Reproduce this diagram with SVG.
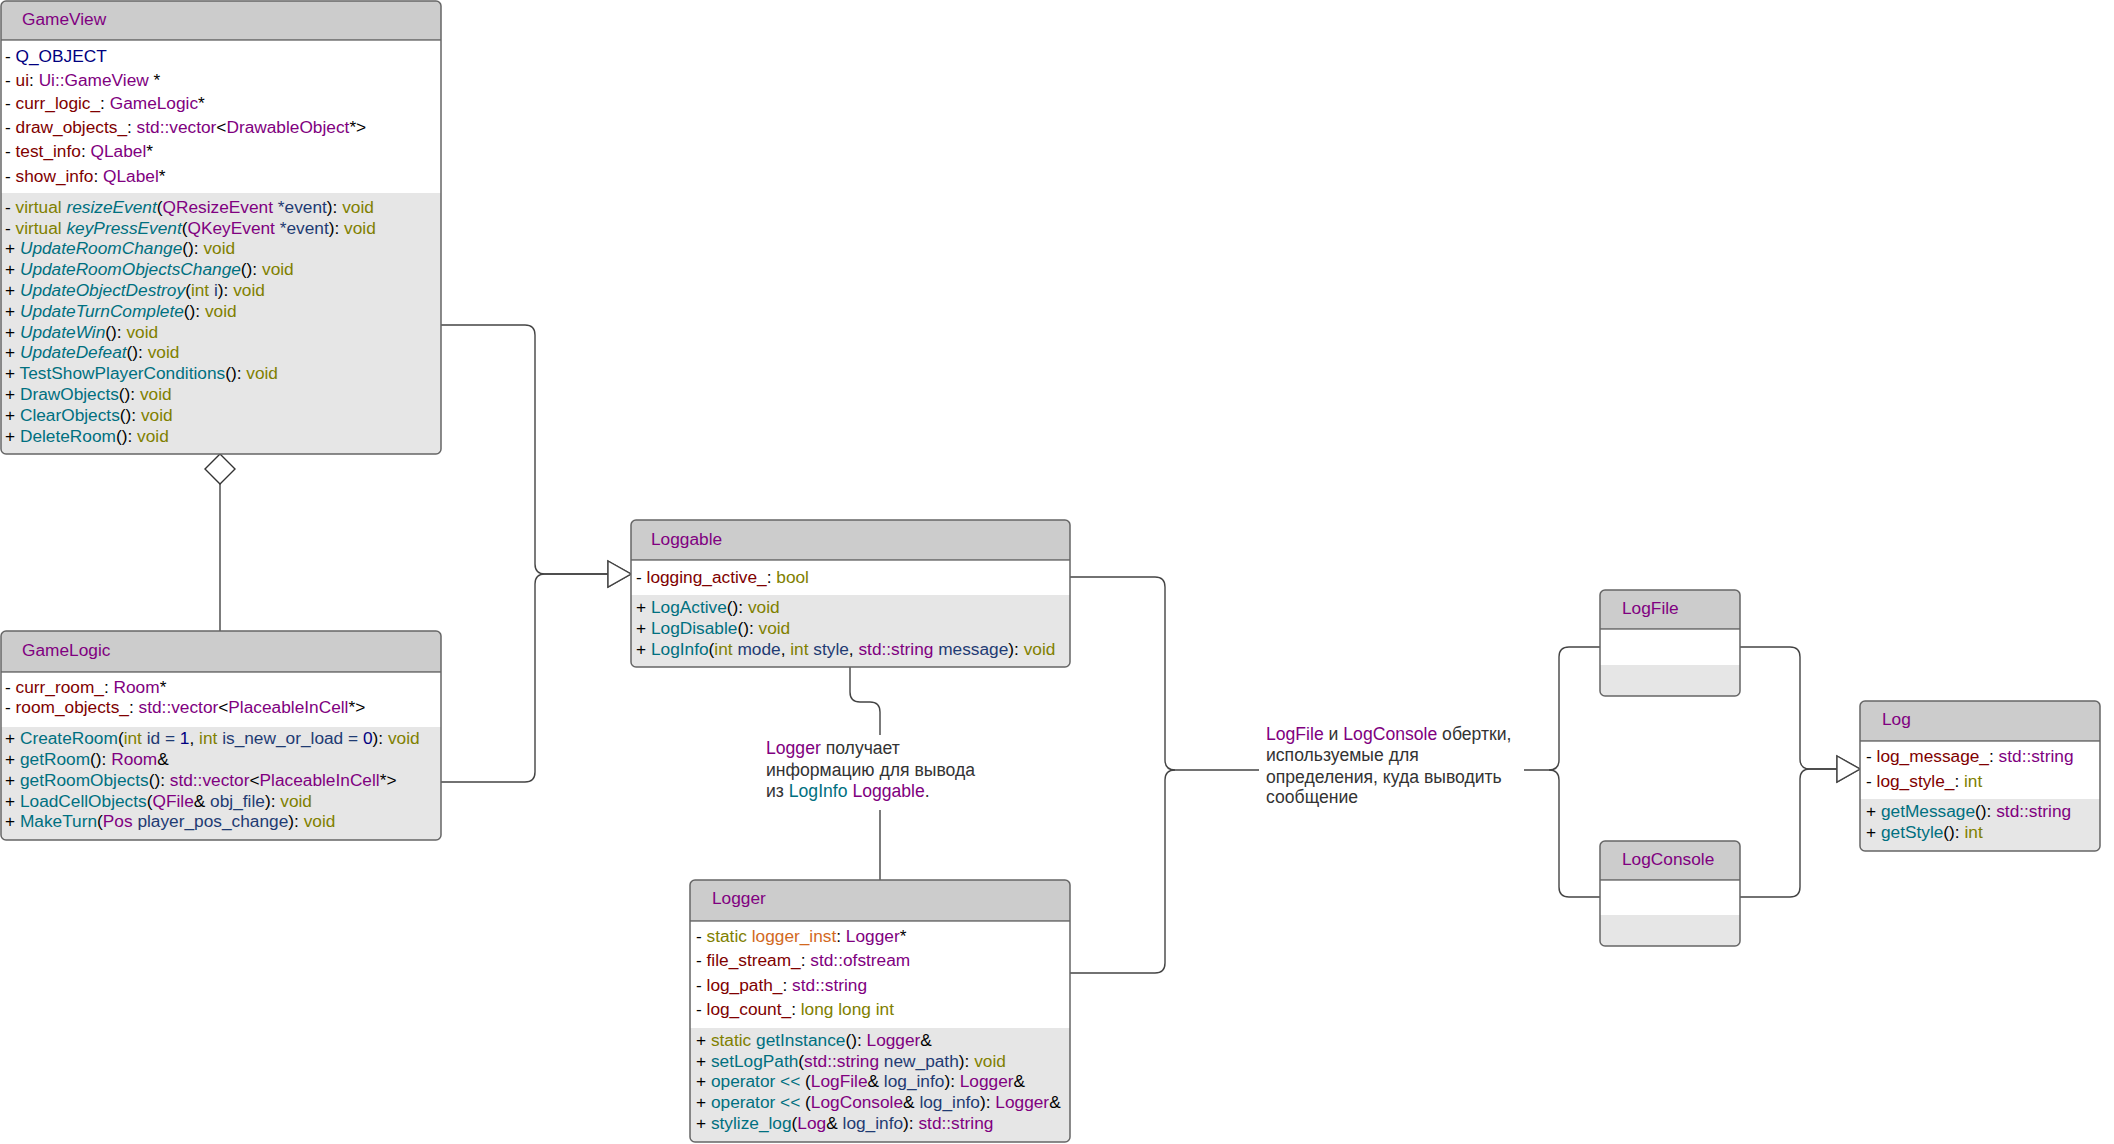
<svg xmlns="http://www.w3.org/2000/svg" width="2114" height="1144" viewBox="0 0 2114 1144">
<style>
text{font-family:"Liberation Sans",Arial,Helvetica,sans-serif;font-size:17.3px;fill:#000}
text.lb{font-size:17.6px}
.hd{fill:#CCCCCC}
.at{fill:#FFFFFF}
.mt{fill:#E6E6E6}
.bx{fill:none;stroke:#666666;stroke-width:1.5}
.dv{stroke:#333333;stroke-width:1.2}
.ti{fill:#800080}
.n{fill:#800000}
.t{fill:#800080}
.k{fill:#808000}
.m{fill:#007080}
.i{font-style:italic}
.a{fill:#1F3B73}
.q{fill:#000080}
.o{fill:#D2691E}
.d{fill:#333333}
.c{fill:none;stroke:#444444;stroke-width:1.4}
</style>
<defs>
<marker id="tri" markerUnits="userSpaceOnUse" markerWidth="26" markerHeight="30" viewBox="0 0 26 30" refX="24" refY="15" orient="auto">
<path d="M1,2 L24,15 L1,28 Z" fill="#FFFFFF" stroke="#444444" stroke-width="1.4"/>
</marker>
<marker id="dia" markerUnits="userSpaceOnUse" markerWidth="34" markerHeight="34" viewBox="0 0 34 34" refX="2" refY="17" orient="auto">
<path d="M2,17 L17,2 L32,17 L17,32 Z" fill="#FFFFFF" stroke="#333333" stroke-width="1.4"/>
</marker>
</defs>
<rect width="2114" height="1144" fill="#FFFFFF"/>

<g id="connectors">
<path class="c" d="M441,325 H525 Q535,325 535,335 V564 Q535,574 545,574 H631" marker-end="url(#tri)"/>
<path class="c" d="M441,782 H525 Q535,782 535,772 V584 Q535,574 545,574 H631" marker-end="url(#tri)"/>
<path class="c" d="M220,454 V631" marker-start="url(#dia)"/>
<path class="c" d="M850,667 V692 Q850,702 860,702 H870 Q880,702 880,712 V735"/>
<path class="c" d="M880,810 V880"/>
<text class="lb" x="766" y="754"><tspan class="t">Logger</tspan><tspan class="d"> получает</tspan></text>
<text class="lb d" x="766" y="776">информацию для вывода</text>
<text class="lb" x="766" y="797"><tspan class="d">из </tspan><tspan class="m">LogInfo</tspan><tspan class="t"> Loggable</tspan><tspan class="d">.</tspan></text>
<path class="c" d="M1070,577 H1155 Q1165,577 1165,587 V760 Q1165,770 1175,770 H1259"/>
<path class="c" d="M1070,973 H1155 Q1165,973 1165,963 V780 Q1165,770 1175,770"/>
<text class="lb" x="1266" y="740"><tspan class="t">LogFile</tspan><tspan class="d"> и </tspan><tspan class="t">LogConsole</tspan><tspan class="d"> обертки,</tspan></text>
<text class="lb d" x="1266" y="761">используемые для</text>
<text class="lb d" x="1266" y="783">определения, куда выводить</text>
<text class="lb d" x="1266" y="803">сообщение</text>
<path class="c" d="M1524,770 H1549 Q1559,770 1559,760 V657 Q1559,647 1569,647 H1600"/>
<path class="c" d="M1549,770 Q1559,770 1559,780 V887 Q1559,897 1569,897 H1600"/>
<path class="c" d="M1740,647 H1790 Q1800,647 1800,657 V759 Q1800,769 1810,769 H1860" marker-end="url(#tri)"/>
<path class="c" d="M1740,897 H1790 Q1800,897 1800,887 V779 Q1800,769 1810,769 H1860" marker-end="url(#tri)"/>
</g>

<g id="GameView">
<rect class="mt" x="1" y="1" width="440" height="453" rx="5"/>
<path class="hd" d="M1,40 V6 Q1,1 6,1 H436 Q441,1 441,6 V40 Z"/>
<rect class="at" x="1" y="40" width="440" height="153"/>
<line class="dv" x1="1" y1="40" x2="441" y2="40"/>
<rect class="bx" x="1" y="1" width="440" height="453" rx="5"/>
<text x="22" y="25" class="ti">GameView</text>
<text x="5" y="62">- <tspan class="q">Q_OBJECT</tspan></text>
<text x="5" y="86">- <tspan class="n">ui</tspan>: <tspan class="t">Ui::GameView</tspan> *</text>
<text x="5" y="109">- <tspan class="n">curr_logic_</tspan>: <tspan class="t">GameLogic</tspan>*</text>
<text x="5" y="133">- <tspan class="n">draw_objects_</tspan>: <tspan class="t">std::vector</tspan>&lt;<tspan class="t">DrawableObject</tspan>*&gt;</text>
<text x="5" y="157">- <tspan class="n">test_info</tspan>: <tspan class="t">QLabel</tspan>*</text>
<text x="5" y="182">- <tspan class="n">show_info</tspan>: <tspan class="t">QLabel</tspan>*</text>
<text x="5" y="213">- <tspan class="k">virtual </tspan><tspan class="m i">resizeEvent</tspan>(<tspan class="t">QResizeEvent</tspan><tspan class="a"> *event</tspan>): <tspan class="k">void</tspan></text>
<text x="5" y="234">- <tspan class="k">virtual </tspan><tspan class="m i">keyPressEvent</tspan>(<tspan class="t">QKeyEvent</tspan><tspan class="a"> *event</tspan>): <tspan class="k">void</tspan></text>
<text x="5" y="254">+ <tspan class="m i">UpdateRoomChange</tspan>(): <tspan class="k">void</tspan></text>
<text x="5" y="275">+ <tspan class="m i">UpdateRoomObjectsChange</tspan>(): <tspan class="k">void</tspan></text>
<text x="5" y="296">+ <tspan class="m i">UpdateObjectDestroy</tspan>(<tspan class="k">int</tspan><tspan class="a"> i</tspan>): <tspan class="k">void</tspan></text>
<text x="5" y="317">+ <tspan class="m i">UpdateTurnComplete</tspan>(): <tspan class="k">void</tspan></text>
<text x="5" y="338">+ <tspan class="m i">UpdateWin</tspan>(): <tspan class="k">void</tspan></text>
<text x="5" y="358">+ <tspan class="m i">UpdateDefeat</tspan>(): <tspan class="k">void</tspan></text>
<text x="5" y="379">+ <tspan class="m">TestShowPlayerConditions</tspan>(): <tspan class="k">void</tspan></text>
<text x="5" y="400">+ <tspan class="m">DrawObjects</tspan>(): <tspan class="k">void</tspan></text>
<text x="5" y="421">+ <tspan class="m">ClearObjects</tspan>(): <tspan class="k">void</tspan></text>
<text x="5" y="442">+ <tspan class="m">DeleteRoom</tspan>(): <tspan class="k">void</tspan></text>
</g>

<g id="GameLogic">
<rect class="mt" x="1" y="631" width="440" height="209" rx="5"/>
<path class="hd" d="M1,672 V636 Q1,631 6,631 H436 Q441,631 441,636 V672 Z"/>
<rect class="at" x="1" y="672" width="440" height="55"/>
<line class="dv" x1="1" y1="672" x2="441" y2="672"/>
<rect class="bx" x="1" y="631" width="440" height="209" rx="5"/>
<text x="22" y="656" class="ti">GameLogic</text>
<text x="5" y="693">- <tspan class="n">curr_room_</tspan>: <tspan class="t">Room</tspan>*</text>
<text x="5" y="713">- <tspan class="n">room_objects_</tspan>: <tspan class="t">std::vector</tspan>&lt;<tspan class="t">PlaceableInCell</tspan>*&gt;</text>
<text x="5" y="744">+ <tspan class="m">CreateRoom</tspan>(<tspan class="k">int</tspan><tspan class="a"> id = </tspan><tspan class="q">1</tspan>, <tspan class="k">int</tspan><tspan class="a"> is_new_or_load = </tspan><tspan class="q">0</tspan>): <tspan class="k">void</tspan></text>
<text x="5" y="765">+ <tspan class="m">getRoom</tspan>(): <tspan class="t">Room</tspan>&amp;</text>
<text x="5" y="786">+ <tspan class="m">getRoomObjects</tspan>(): <tspan class="t">std::vector</tspan>&lt;<tspan class="t">PlaceableInCell</tspan>*&gt;</text>
<text x="5" y="807">+ <tspan class="m">LoadCellObjects</tspan>(<tspan class="t">QFile</tspan>&amp;<tspan class="a"> obj_file</tspan>): <tspan class="k">void</tspan></text>
<text x="5" y="827">+ <tspan class="m">MakeTurn</tspan>(<tspan class="t">Pos</tspan><tspan class="a"> player_pos_change</tspan>): <tspan class="k">void</tspan></text>
</g>

<g id="Loggable">
<rect class="mt" x="631" y="520" width="439" height="147" rx="5"/>
<path class="hd" d="M631,560 V525 Q631,520 636,520 H1065 Q1070,520 1070,525 V560 Z"/>
<rect class="at" x="631" y="560" width="439" height="35"/>
<line class="dv" x1="631" y1="560" x2="1070" y2="560"/>
<rect class="bx" x="631" y="520" width="439" height="147" rx="5"/>
<text x="651" y="545" class="ti">Loggable</text>
<text x="636" y="583">- <tspan class="n">logging_active_</tspan>: <tspan class="k">bool</tspan></text>
<text x="636" y="613">+ <tspan class="m">LogActive</tspan>(): <tspan class="k">void</tspan></text>
<text x="636" y="634">+ <tspan class="m">LogDisable</tspan>(): <tspan class="k">void</tspan></text>
<text x="636" y="655">+ <tspan class="m">LogInfo</tspan>(<tspan class="k">int</tspan><tspan class="a"> mode</tspan>, <tspan class="k">int</tspan><tspan class="a"> style</tspan>, <tspan class="t">std::string</tspan><tspan class="a"> message</tspan>): <tspan class="k">void</tspan></text>
</g>

<g id="Logger">
<rect class="mt" x="690" y="880" width="380" height="262" rx="5"/>
<path class="hd" d="M690,921 V885 Q690,880 695,880 H1065 Q1070,880 1070,885 V921 Z"/>
<rect class="at" x="690" y="921" width="380" height="107"/>
<line class="dv" x1="690" y1="921" x2="1070" y2="921"/>
<rect class="bx" x="690" y="880" width="380" height="262" rx="5"/>
<text x="712" y="904" class="ti">Logger</text>
<text x="696" y="942">- <tspan class="k">static </tspan><tspan class="o">logger_inst</tspan>: <tspan class="t">Logger</tspan>*</text>
<text x="696" y="966">- <tspan class="n">file_stream_</tspan>: <tspan class="t">std::ofstream</tspan></text>
<text x="696" y="991">- <tspan class="n">log_path_</tspan>: <tspan class="t">std::string</tspan></text>
<text x="696" y="1015">- <tspan class="n">log_count_</tspan>: <tspan class="k">long long int</tspan></text>
<text x="696" y="1046">+ <tspan class="k">static </tspan><tspan class="m">getInstance</tspan>(): <tspan class="t">Logger</tspan>&amp;</text>
<text x="696" y="1067">+ <tspan class="m">setLogPath</tspan>(<tspan class="t">std::string</tspan><tspan class="a"> new_path</tspan>): <tspan class="k">void</tspan></text>
<text x="696" y="1087">+ <tspan class="m">operator &lt;&lt;</tspan> (<tspan class="t">LogFile</tspan>&amp;<tspan class="a"> log_info</tspan>): <tspan class="t">Logger</tspan>&amp;</text>
<text x="696" y="1108">+ <tspan class="m">operator &lt;&lt;</tspan> (<tspan class="t">LogConsole</tspan>&amp;<tspan class="a"> log_info</tspan>): <tspan class="t">Logger</tspan>&amp;</text>
<text x="696" y="1129">+ <tspan class="m">stylize_log</tspan>(<tspan class="t">Log</tspan>&amp;<tspan class="a"> log_info</tspan>): <tspan class="t">std::string</tspan></text>
</g>

<g id="LogFile">
<rect class="mt" x="1600" y="590" width="140" height="106" rx="5"/>
<path class="hd" d="M1600,629 V595 Q1600,590 1605,590 H1735 Q1740,590 1740,595 V629 Z"/>
<rect class="at" x="1600" y="629" width="140" height="36"/>
<line class="dv" x1="1600" y1="629" x2="1740" y2="629"/>
<rect class="bx" x="1600" y="590" width="140" height="106" rx="5"/>
<text x="1622" y="614" class="ti">LogFile</text>
</g>

<g id="LogConsole">
<rect class="mt" x="1600" y="841" width="140" height="105" rx="5"/>
<path class="hd" d="M1600,880 V846 Q1600,841 1605,841 H1735 Q1740,841 1740,846 V880 Z"/>
<rect class="at" x="1600" y="880" width="140" height="35"/>
<line class="dv" x1="1600" y1="880" x2="1740" y2="880"/>
<rect class="bx" x="1600" y="841" width="140" height="105" rx="5"/>
<text x="1622" y="865" class="ti">LogConsole</text>
</g>

<g id="Log">
<rect class="mt" x="1860" y="701" width="240" height="150" rx="5"/>
<path class="hd" d="M1860,741 V706 Q1860,701 1865,701 H2095 Q2100,701 2100,706 V741 Z"/>
<rect class="at" x="1860" y="741" width="240" height="58"/>
<line class="dv" x1="1860" y1="741" x2="2100" y2="741"/>
<rect class="bx" x="1860" y="701" width="240" height="150" rx="5"/>
<text x="1882" y="725" class="ti">Log</text>
<text x="1866" y="762">- <tspan class="n">log_message_</tspan>: <tspan class="t">std::string</tspan></text>
<text x="1866" y="787">- <tspan class="n">log_style_</tspan>: <tspan class="k">int</tspan></text>
<text x="1866" y="817">+ <tspan class="m">getMessage</tspan>(): <tspan class="t">std::string</tspan></text>
<text x="1866" y="838">+ <tspan class="m">getStyle</tspan>(): <tspan class="k">int</tspan></text>
</g>
</svg>
